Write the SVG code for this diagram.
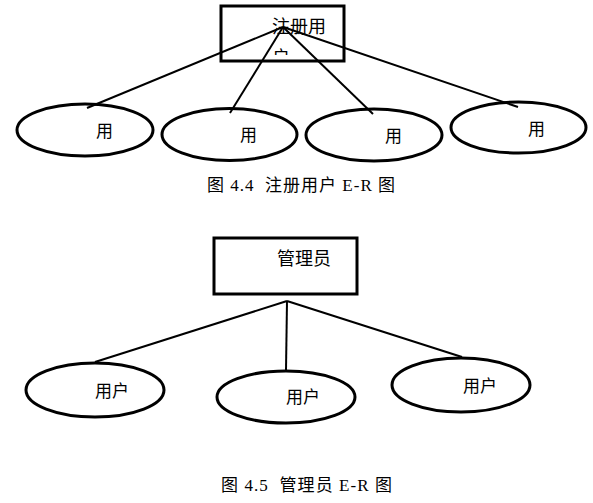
<svg xmlns="http://www.w3.org/2000/svg" width="593" height="503" viewBox="0 0 593 503">
<style>
.box{fill:#fff;stroke:#000;stroke-width:3}
.ell{fill:#fff;stroke:#000;stroke-width:3}
.ln{stroke:#000;stroke-width:2;fill:none}
.t{font-family:"Liberation Serif","Noto Sans CJK SC",serif;font-size:17px;fill:#000}
.cap{font-family:"Liberation Serif","Noto Sans CJK SC",serif;font-size:17px;fill:#000}
</style>
<defs>
<clipPath id="clip1"><rect x="222" y="7" width="121" height="48"/></clipPath>
</defs>
<rect width="593" height="503" fill="#fff"/>
<g id="entity-register-user">
<rect class="box" x="221" y="6" width="123" height="55"/>
<g clip-path="url(#clip1)">
<text class="t" x="272" y="33" style="font-size:18px">注册用</text>
<text class="t" x="272" y="64" style="font-size:18px">户</text>
</g>
</g>
<g id="attr1-1"><ellipse class="ell" cx="85" cy="130" rx="68" ry="26"/><text class="t" x="96" y="137">用</text></g>
<g id="attr1-2"><ellipse class="ell" cx="229.5" cy="134.5" rx="67.5" ry="26"/><text class="t" x="240" y="141">用</text></g>
<g id="attr1-3"><ellipse class="ell" cx="374" cy="135" rx="68" ry="26"/><text class="t" x="385" y="142">用</text></g>
<g id="attr1-4"><ellipse class="ell" cx="518.5" cy="127.5" rx="67.5" ry="25.5"/><text class="t" x="528" y="135">用</text></g>
<g id="entity-admin">
<rect class="box" x="214" y="238" width="143" height="56"/>
<text class="t" x="277" y="265" style="font-size:18px">管理员</text>
</g>
<g id="attr2-1"><ellipse class="ell" cx="95" cy="390" rx="69" ry="27"/><text class="t" x="95" y="397">用户</text></g>
<g id="attr2-2"><ellipse class="ell" cx="286" cy="397" rx="69" ry="26"/><text class="t" x="286" y="403">用户</text></g>
<g id="attr2-3"><ellipse class="ell" cx="461" cy="385" rx="69" ry="27"/><text class="t" x="463" y="392">用户</text></g>
<g id="connectors">
<line class="ln" x1="283" y1="27" x2="87" y2="108"/>
<line class="ln" x1="283" y1="27" x2="230" y2="113"/>
<line class="ln" x1="283" y1="27" x2="373" y2="114"/>
<line class="ln" x1="283" y1="27" x2="518" y2="107"/>
<line class="ln" x1="287" y1="301" x2="95" y2="362"/>
<line class="ln" x1="287" y1="301" x2="286" y2="370"/>
<line class="ln" x1="287" y1="301" x2="462" y2="357"/>
</g>
<text class="cap" x="207" y="191" xml:space="preserve" textLength="188" lengthAdjust="spacing">图 4.4  注册用户 E-R 图</text>
<text class="cap" x="221" y="491" xml:space="preserve" textLength="171" lengthAdjust="spacing">图 4.5  管理员 E-R 图</text>
</svg>
